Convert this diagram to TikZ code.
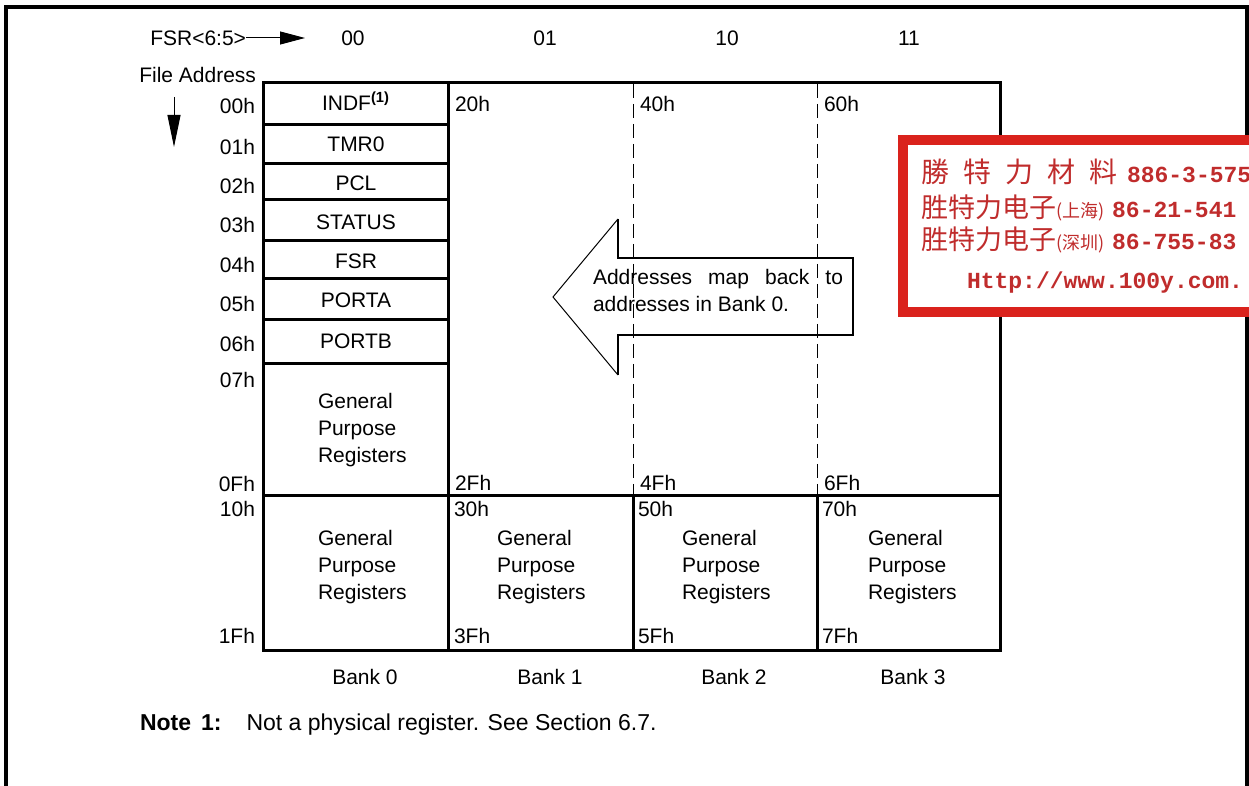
\documentclass[tikz,border=0pt]{standalone}
\usepackage{fontspec}
\setmainfont{Liberation Sans}
\newfontfamily\cjktc{Noto Sans CJK TC}
\newfontfamily\cjksc{Noto Sans CJK SC}
\newfontfamily\stampmono{Liberation Mono}
\usetikzlibrary{arrows.meta}
\definecolor{stampred}{RGB}{218,34,28}
\definecolor{stamptext}{RGB}{192,44,44}
\begin{document}
\begin{tikzpicture}[x=0.5pt,y=-0.5pt,
  every node/.style={font=\fontsize{10.5}{13.5}\selectfont, inner sep=0pt, outer sep=0pt},
  tbl/.style={line width=1.5pt},
  frameline/.style={line width=1.6pt},
  dashline/.style={line width=0.5pt, dash pattern=on 7pt off 3pt},
  addr/.style={anchor=east},
  lbl/.style={anchor=west},
  gpr/.style={anchor=west, align=left},
  bigarrow/.style={line width=0.5pt},
  notefont/.style={font=\fontsize{11.5}{14}\selectfont},
  stampline/.style={anchor=west, text=stamptext},
]
\useasboundingbox (0,0) rectangle (1249,786);

% outer frame
\draw[frameline] (6,786) -- (6,7) -- (1247,7) -- (1247,786);

% header
\node[anchor=east] (fsrlbl) at (246,38) {FSR<6:5>};
\coordinate (fsrtip) at (305,38);
\draw[line width=0.5pt, -{Triangle[length=12.5pt,width=6.5pt]}] (fsrlbl.east) -- (fsrtip);
\node (b00) at (353,38) {00};
\node (b01) at (545,38) {01};
\node (b10) at (727,38) {10};
\node (b11) at (909,38) {11};

\node[anchor=east] (fileaddr) at (256,75) {File Address};
\coordinate (dstart) at (174,97);
\coordinate (dend) at (174,147);
\draw[line width=0.5pt, -{Triangle[length=16pt,width=6.5pt]}] (dstart) -- (dend);

% table lines
\draw[tbl] (263,83) rectangle (448,650);
\draw[tbl] (448,83) rectangle (1000,496);
\draw[tbl] (263,496) rectangle (1000,650);
\foreach \xx in {633,817} \draw[tbl] (\xx,496) -- (\xx,650);
\foreach \yy in {125,164,200,241,279,320,364} \draw[tbl] (263,\yy) -- (448,\yy);
\foreach \xx in {633,817} \draw[dashline] (\xx,84) -- (\xx,495);

% addresses
\node[addr] (a00) at (255,106) {00h};
\node[addr] (a01) at (255,147) {01h};
\node[addr] (a02) at (255,186) {02h};
\node[addr] (a03) at (255,225) {03h};
\node[addr] (a04) at (255,265) {04h};
\node[addr] (a05) at (255,304) {05h};
\node[addr] (a06) at (255,344) {06h};
\node[addr] (a07) at (255,380) {07h};
\node[addr] (a0F) at (255,484) {0Fh};
\node[addr] (a10) at (255,509) {10h};
\node[addr] (a1F) at (255,636) {1Fh};

% bank 0 registers
\node (indf) at (356,101) {INDF\textsuperscript{\textbf{(1)}}};
\node (tmr0) at (356,144) {TMR0};
\node (pcl) at (356,183) {PCL};
\node (status) at (356,222) {STATUS};
\node (fsr) at (356,261) {FSR};
\node (porta) at (356,300) {PORTA};
\node (portb) at (356,341) {PORTB};
\node[gpr] (gpr0a) at (318,430) {General\\Purpose\\Registers};

% upper-bank addresses
\node[lbl] (a20) at (455,104) {20h};
\node[lbl] (a40) at (640,104) {40h};
\node[lbl] (a60) at (824,104) {60h};
\node[lbl] (a2F) at (455,483) {2Fh};
\node[lbl] (a4F) at (640,483) {4Fh};
\node[lbl] (a6F) at (824,483) {6Fh};

% lower row
\node[lbl] (a30) at (454,509) {30h};
\node[lbl] (a50) at (638,509) {50h};
\node[lbl] (a70) at (822,509) {70h};
\node[lbl] (a3F) at (454,636) {3Fh};
\node[lbl] (a5F) at (638,636) {5Fh};
\node[lbl] (a7F) at (822,636) {7Fh};
\node[gpr] (gpr0b) at (318,567) {General\\Purpose\\Registers};
\node[gpr] (gpr1) at (497,567) {General\\Purpose\\Registers};
\node[gpr] (gpr2) at (682,567) {General\\Purpose\\Registers};
\node[gpr] (gpr3) at (868,567) {General\\Purpose\\Registers};

% bank labels
\node (bank0) at (365,677) {Bank 0};
\node (bank1) at (550,677) {Bank 1};
\node (bank2) at (734,677) {Bank 2};
\node (bank3) at (913,677) {Bank 3};

% note
\node[anchor=west, notefont] (note) at (140,725) {\textbf{Note\hspace{5pt}1:}\hspace{12.5pt}Not a physical register. See Section 6.7.};

% big arrow
\draw[bigarrow] (618,219) -- (553,297) -- (618,375);
\draw[line width=1.1pt] (618,219) -- (618,258) -- (853,258) -- (853,335) -- (618,335) -- (618,375);
\node[anchor=north west, align=left] (maptext) at (593,269)
  {\makebox[125pt][s]{Addresses map back to}\\addresses in Bank 0.};

% stamp
\begin{scope}
\clip (0,0) rectangle (1249,786);
\draw[stampred, line width=5pt, fill=white] (903,140) rectangle (1275,312);
\node[stampline] (st1) at (921,172) {\cjktc\fontsize{14}{14}\selectfont 勝\hspace{7pt}特\hspace{7pt}力\hspace{7pt}材\hspace{7pt}料\hspace{5pt}{\stampmono\bfseries\fontsize{11.5}{12}\selectfont 886-3-575}};
\node[stampline] (st2) at (921,208) {\cjksc\fontsize{13.5}{14}\selectfont 胜特力电子{\fontsize{9}{10}\selectfont (上海)}\hspace{4pt}{\stampmono\bfseries\fontsize{11.5}{12}\selectfont 86-21-541}};
\node[stampline] (st3) at (921,240) {\cjksc\fontsize{13.5}{14}\selectfont 胜特力电子{\fontsize{9}{10}\selectfont (深圳)}\hspace{4pt}{\stampmono\bfseries\fontsize{11.5}{12}\selectfont 86-755-83}};
\node[stampline] (st4) at (967,283) {\stampmono\bfseries\fontsize{11.5}{12}\selectfont Http://www.100y.com.};
\end{scope}
\end{tikzpicture}
\end{document}
